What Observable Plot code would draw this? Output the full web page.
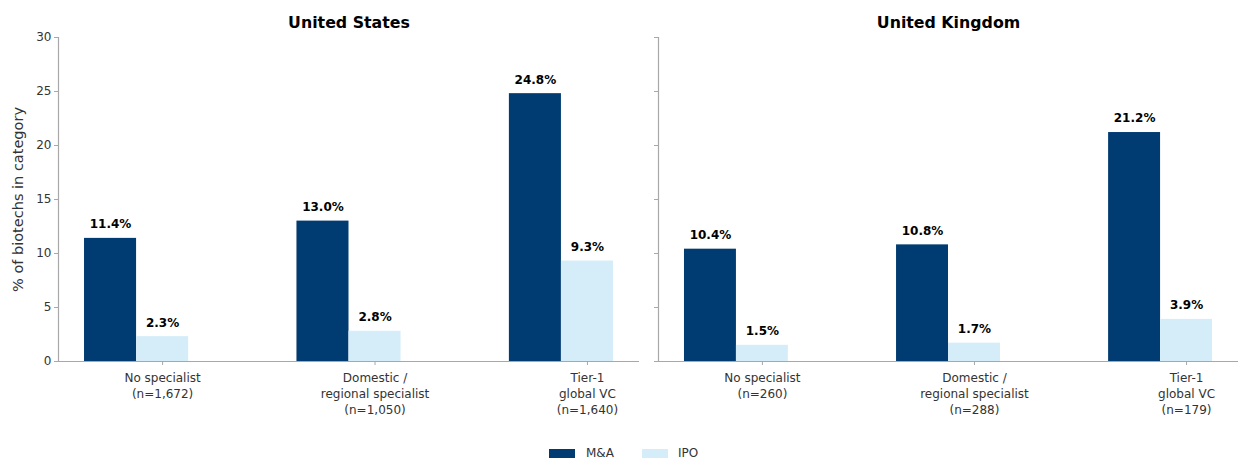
<!DOCTYPE html>
<html>
<head>
<meta charset="utf-8">
<script src="https://cdn.jsdelivr.net/npm/d3@7"></script>
<script src="https://cdn.jsdelivr.net/npm/@observablehq/plot@0.6"></script>
<style>
  body { margin: 0; background: #fff; font-family: "DejaVu Sans", sans-serif; }
  #row { display: flex; flex-direction: row; align-items: flex-start; }
  #legend { position: relative; height: 40px; width: 1238px; }
  .sw { position: absolute; top: 28px; width: 26px; height: 9px; }
  .lt { position: absolute; top: 24px; font-size: 12px; color: #333; line-height: 16px; }
</style>
</head>
<body>
<div id="row"></div>
<div id="legend"></div>
<script>
// ---- data ----
const categories = ["No specialist", "Domestic /\nregional specialist", "Tier-1\nglobal VC"];
const countries = ["United States", "United Kingdom"];
const usN = ["1,672", "1,050", "1,640"];
const ukN = ["260", "288", "179"];
const usMA = [11.4, 13.0, 24.8];
const usIPO = [2.3, 2.8, 9.3];
const ukMA = [10.4, 10.8, 21.2];
const ukIPO = [1.5, 1.7, 3.9];
const seriesNames = ["M&A", "IPO"];
const seriesColors = ["#003b71", "#d5edf9"];
const yTicks = [0, 5, 10, 15, 20, 25, 30];

// ---- layout helpers ----
const W = 0.245;                // bar width in category units
const offsets = [-W, 0];        // M&A to the left of the tick, IPO centred on tick
const xDomain = [-0.49, 2.245];
const axisColor = "#a8a8a8";
const textColor = "#333";

function rows(ma, ipo) {
  const out = [];
  [ma, ipo].forEach((vals, s) => {
    vals.forEach((v, i) => {
      const c = i + offsets[s];
      out.push({series: seriesNames[s], i, value: v, x1: c - W / 2, x2: c + W / 2, xc: c});
    });
  });
  return out;
}

function panel(title, ma, ipo, nList, first) {
  const data = rows(ma, ipo);
  const marginLeft = first ? 58 : 18;
  const width = first ? 640 : 598;
  return Plot.plot({
    width,
    height: 421,
    marginTop: 37,
    marginBottom: 60,
    marginLeft,
    marginRight: first ? 1 : 0,
    style: {fontFamily: "DejaVu Sans, sans-serif", background: "#fff"},
    x: {domain: xDomain, axis: null},
    y: {domain: [0, 30], axis: null},
    color: {domain: seriesNames, range: seriesColors},
    marks: [
      Plot.rect(data, {x1: "x1", x2: "x2", y1: 0, y2: "value", fill: "series"}),
      Plot.text(data, {x: "xc", y: "value", text: d => d.value.toFixed(1) + "%", dy: -14,
        fontSize: 12, fontWeight: "bold", fill: "#000"}),
      Plot.ruleY([0], {stroke: axisColor, strokeWidth: 1.2}),
      Plot.ruleX([xDomain[0]], {stroke: axisColor, strokeWidth: 1.2}),
      Plot.axisX({ticks: [0, 1, 2], tickFormat: i => categories[i] + "\n(n=" + nList[i] + ")",
        tickSize: 4, tickPadding: 5, fontSize: 12, lineHeight: 1.33, stroke: axisColor, fill: textColor,
        label: null}),
      Plot.axisY({ticks: yTicks, tickSize: 4, tickPadding: 3, fontSize: 12,
        stroke: axisColor, fill: textColor,
        tickFormat: first ? (d => d) : (() => ""),
        label: null}),
      ...(first ? [Plot.text(["% of biotechs in category"], {frameAnchor: "left", dx: -40, rotate: -90,
        textAnchor: "middle", fontSize: 14.5, fill: textColor})] : []),
      Plot.text([title], {frameAnchor: "top", dy: -21, fontSize: 15.8, fontWeight: "bold", fill: "#000"})
    ]
  });
}

const row = document.getElementById("row");
row.appendChild(panel(countries[0], usMA, usIPO, usN, true));
row.appendChild(panel(countries[1], ukMA, ukIPO, ukN, false));

// ---- legend ----
const legend = document.getElementById("legend");
const pos = [[549, 586], [642, 678]];
seriesNames.forEach((name, s) => {
  const sw = document.createElement("div");
  sw.className = "sw";
  sw.style.left = pos[s][0] + "px";
  sw.style.background = seriesColors[s];
  legend.appendChild(sw);
  const t = document.createElement("div");
  t.className = "lt";
  t.style.left = pos[s][1] + "px";
  t.textContent = name;
  legend.appendChild(t);
});
</script>
</body>
</html>
